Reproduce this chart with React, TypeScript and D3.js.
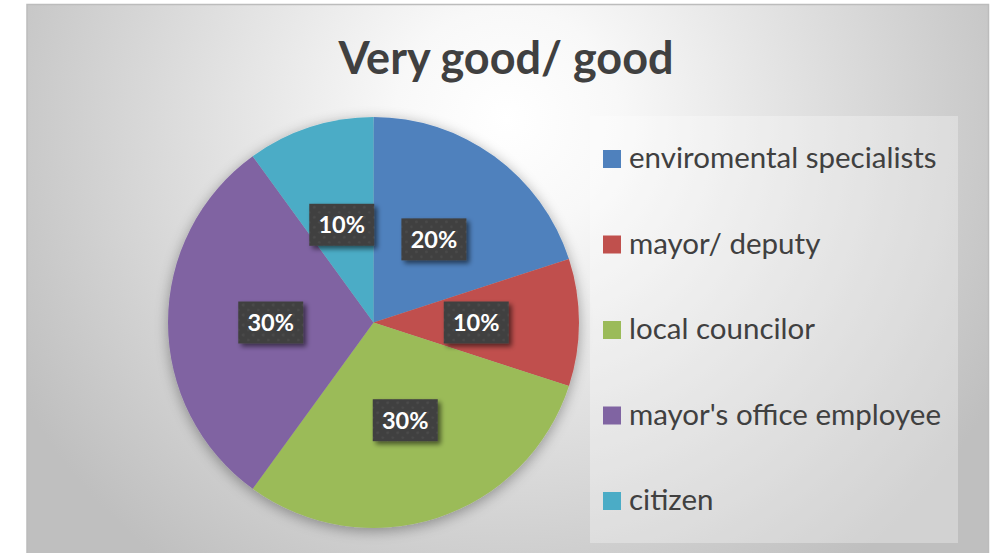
import React from "react";
import * as d3 from "d3";

const title = "Very good/ good";
const categories = [
  "enviromental specialists",
  "mayor/ deputy",
  "local councilor",
  "mayor's office employee",
  "citizen",
];
const values = [20, 10, 30, 30, 10];
const colors = ["#4F81BD", "#C0504D", "#9BBB59", "#8064A2", "#4BACC6"];

const W = 995;
const H = 553;

export default function App() {
  const cx = 373.5;
  const cy = 322.5;
  const R = 205.5;
  const total = d3.sum(values);
  const pie = d3.pie<number>().sort(null).value((d) => d);
  const arcs = pie(values);
  const arc = d3.arc<d3.PieArcDatum<number>>().innerRadius(0).outerRadius(R);
  const fmt = d3.format(".0%");

  const legendX = 603;
  const legendY0 = 159;
  const legendStep = 85.5;

  return (
    <svg
      width={W}
      height={H}
      style={{ position: "absolute", left: 0, top: 0, display: "block" }}
    >
      <defs>
        <radialGradient id="bg" gradientUnits="userSpaceOnUse" cx={507} cy={120} r={560}>
          <stop offset="0" stopColor="#ffffff" />
          <stop offset="0.2" stopColor="#f8f8f8" />
          <stop offset="1" stopColor="#bfbfbf" />
        </radialGradient>
        <filter id="pieShadow" x="-20%" y="-20%" width="140%" height="140%">
          <feGaussianBlur in="SourceAlpha" stdDeviation="7" />
          <feOffset dx="0" dy="3" result="b" />
          <feComponentTransfer>
            <feFuncA type="linear" slope="0.35" />
          </feComponentTransfer>
          <feMerge>
            <feMergeNode />
            <feMergeNode in="SourceGraphic" />
          </feMerge>
        </filter>
        <filter id="boxShadow" x="-30%" y="-30%" width="170%" height="170%">
          <feGaussianBlur in="SourceAlpha" stdDeviation="2.5" />
          <feOffset dx="3" dy="3" />
          <feComponentTransfer>
            <feFuncA type="linear" slope="0.55" />
          </feComponentTransfer>
          <feMerge>
            <feMergeNode />
            <feMergeNode in="SourceGraphic" />
          </feMerge>
        </filter>
        <pattern id="dots" width="10" height="10" patternUnits="userSpaceOnUse">
          <rect width="10" height="10" fill="#404040" />
          <circle cx="2.5" cy="2.5" r="1.3" fill="#4c4c4c" />
          <circle cx="7.5" cy="7.5" r="1.3" fill="#4a4a4a" />
        </pattern>
      </defs>

      <rect x={0} y={0} width={W} height={H} fill="#ffffff" />
      <rect
        x={27}
        y={4.5}
        width={961.5}
        height={H}
        fill="url(#bg)"
        stroke="#bcbcbc"
        strokeWidth={1.5}
      />

      <text
        x={506}
        y={74}
        textAnchor="middle"
        fontFamily="Lato, 'Open Sans', sans-serif"
        fontWeight={700}
        fontSize={45}
        fill="#404040"
      >
        {title}
      </text>

      <g transform={`translate(${cx},${cy})`}>
        <g filter="url(#pieShadow)">
          {arcs.map((a, i) => (
            <path key={i} d={arc(a) || ""} fill={colors[i]} />
          ))}
        </g>
        {arcs.map((a, i) => {
          const [lx, ly] = arc.centroid(a);
          const bw = 65;
          const bh = 42;
          return (
            <g key={"l" + i} transform={`translate(${lx},${ly})`}>
              <rect
                x={-bw / 2}
                y={-bh / 2}
                width={bw}
                height={bh}
                fill="url(#dots)"
                filter="url(#boxShadow)"
              />
              <text
                x={0}
                y={8.5}
                textAnchor="middle"
                fontFamily="Lato, 'Open Sans', sans-serif"
                fontWeight={700}
                fontSize={23.5}
                fill="#ffffff"
              >
                {fmt(values[i] / total)}
              </text>
            </g>
          );
        })}
      </g>

      <rect
        x={590}
        y={116}
        width={368}
        height={427}
        fill="#ffffff"
        fillOpacity={0.3}
      />
      {categories.map((c, i) => {
        const y = legendY0 + i * legendStep;
        return (
          <g key={c}>
            <rect x={legendX} y={y - 9} width={18} height={18} fill={colors[i]} />
            <text
              x={629}
              y={y + 9}
              fontFamily="Lato, 'Open Sans', sans-serif"
              fontSize={29.5}
              fill="#404040"
            >
              {c}
            </text>
          </g>
        );
      })}
    </svg>
  );
}
